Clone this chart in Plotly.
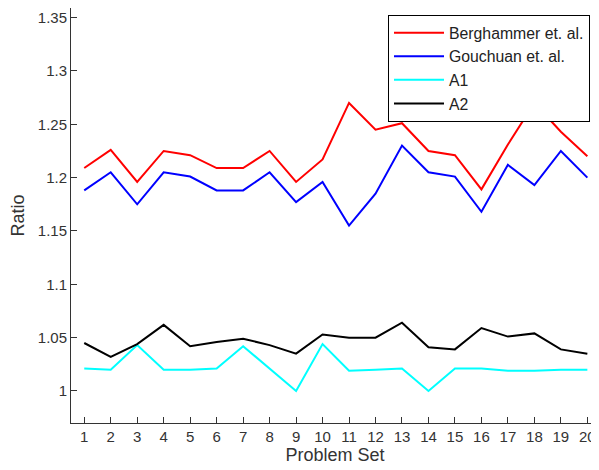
import plotly.graph_objects as go

problem_sets = list(range(1, 21))
berghammer = [1.209, 1.226, 1.196, 1.225, 1.221, 1.209, 1.209, 1.225, 1.196, 1.217,
              1.270, 1.245, 1.251, 1.225, 1.221, 1.189, 1.231, 1.270, 1.243, 1.220]
gouchuan = [1.188, 1.205, 1.175, 1.205, 1.201, 1.188, 1.188, 1.205, 1.177, 1.196,
            1.155, 1.185, 1.230, 1.205, 1.201, 1.168, 1.212, 1.193, 1.225, 1.200]
a1 = [1.021, 1.020, 1.043, 1.020, 1.020, 1.021, 1.042, 1.021, 1.000, 1.044,
      1.019, 1.020, 1.021, 1.000, 1.021, 1.021, 1.019, 1.019, 1.020, 1.020]
a2 = [1.045, 1.032, 1.044, 1.062, 1.042, 1.046, 1.049, 1.043, 1.035, 1.053,
      1.050, 1.050, 1.064, 1.041, 1.039, 1.059, 1.051, 1.054, 1.039, 1.035]
y_ticks = [1, 1.05, 1.1, 1.15, 1.2, 1.25, 1.3, 1.35]
y_tick_labels = ["1", "1.05", "1.1", "1.15", "1.2", "1.25", "1.3", "1.35"]

series = [("Berghammer et. al.", berghammer, "#ff0000"),
          ("Gouchuan et. al.", gouchuan, "#0000ff"),
          ("A1", a1, "#00ffff"),
          ("A2", a2, "#000000")]

fig = go.Figure()
for name, vals, color in series:
    fig.add_trace(go.Scatter(x=problem_sets, y=vals, mode="lines", name=name,
                             line=dict(color=color, width=2)))

fam = "Liberation Sans, Arial, sans-serif"
# page has an 8px body margin, so the figure is sized 8px smaller
W, H = 591, 462
ML, MR, MT, MB = 63, 0, 0, 47
PW, PH = W - ML - MR, H - MT - MB
fig.update_layout(
    width=W, height=H,
    margin=dict(l=ML, r=MR, t=MT, b=MB),
    paper_bgcolor="white", plot_bgcolor="white",
    font=dict(family=fam, size=15, color="#333333"),
    showlegend=True,
    legend=dict(x=(380 - ML) / PW, y=1 - 7 / PH, xanchor="left", yanchor="top",
                bordercolor="#000000", borderwidth=1, bgcolor="white",
                font=dict(family=fam, size=15.8, color="#222222"),
                itemwidth=50, tracegroupgap=0),
)
fig.update_xaxes(range=[0.5, 20.44], tickmode="array", tickvals=problem_sets,
                 ticktext=[str(v) for v in problem_sets],
                 ticks="inside", ticklen=6, tickcolor="#333333",
                 showline=True, linecolor="#333333", linewidth=1,
                 showgrid=False, zeroline=False, automargin=False,
                 title=dict(text="Problem Set", standoff=2))
fig.update_yaxes(range=[0.97, 1.359], tickmode="array",
                 tickvals=y_ticks, ticktext=y_tick_labels,
                 ticks="inside", ticklen=6, tickcolor="#333333",
                 showline=True, linecolor="#333333", linewidth=1,
                 showgrid=False, zeroline=False, automargin=False,
                 title=dict(text="Ratio", standoff=8))

fig.write_html("out.html")
